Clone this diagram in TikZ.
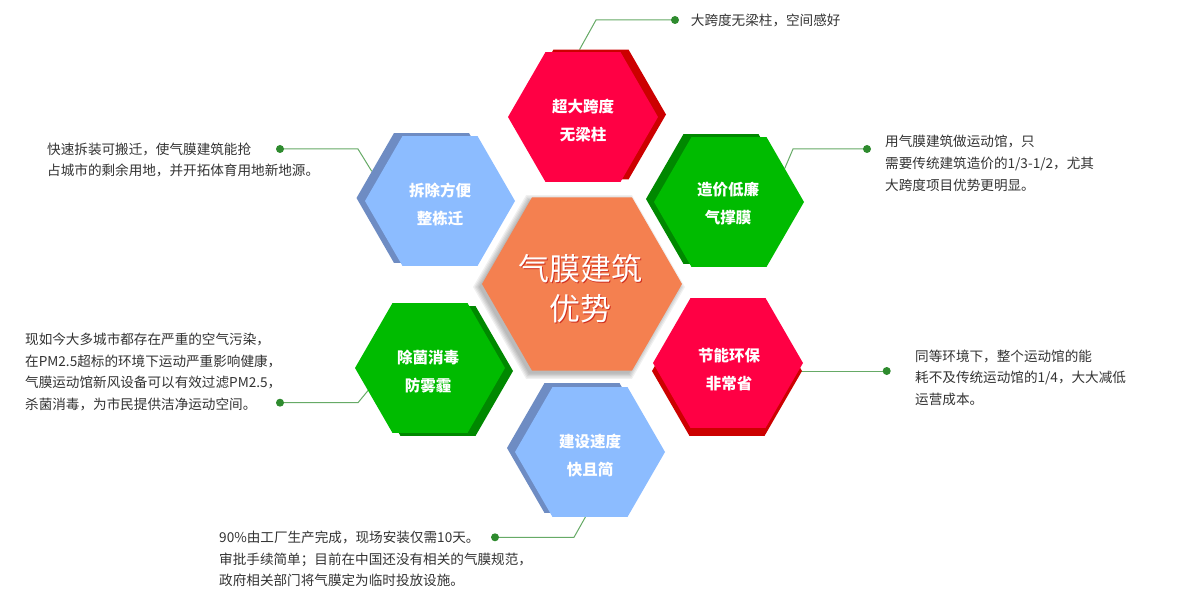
\documentclass[tikz,border=0pt]{standalone}
\usepackage{fontspec}
\setmainfont{Noto Sans CJK SC}
\usetikzlibrary{shapes.geometric,backgrounds}
\definecolor{hred}{HTML}{FF0044}
\definecolor{hredd}{HTML}{CC0000}
\definecolor{hgreen}{HTML}{00BB00}
\definecolor{hgreend}{HTML}{008800}
\definecolor{hblue}{HTML}{8CBCFF}
\definecolor{hblued}{HTML}{6E8CC3}
\definecolor{horange}{HTML}{F48050}
\definecolor{cline}{HTML}{66AA66}
\definecolor{cdot}{HTML}{2E8B2E}
\definecolor{ctext}{HTML}{333333}
\definecolor{cshad}{HTML}{D03020}
\begin{document}
\begin{tikzpicture}[x=1pt,y=-1pt,
  hexbase/.style={regular polygon, regular polygon sides=6, minimum size=150pt, inner sep=0pt, outer sep=0pt},
  hexlabel/.style={text=white, font=\bfseries\fontsize{15.5}{28}\selectfont, align=center, inner sep=0pt},
  desc/.style={text=ctext, font=\fontsize{13.6}{21.7}\selectfont, align=left, anchor=north west, inner sep=0pt},
  conn/.style={draw=cline, line width=1pt},
  dotnode/.style={circle, fill=cdot, minimum size=8pt, inner sep=0pt},
  centerlabel/.style={font=\fontsize{31}{40}\selectfont, align=center, inner sep=0pt},
  softshadow/.style={hexbase, fill=black, opacity=0.06},
]
\useasboundingbox (0,0) rectangle (1203,604);

% top red
\node[hexbase, fill=hredd] (h1s) at (591,114.5) {};
\node[hexbase, fill=hred] (h1) at (583,117) {};
\node[hexlabel] (t1) at (583,121) {超大跨度\\无梁柱};

% upper-left blue
\node[hexbase, fill=hblued] (h2s) at (431.5,198) {};
\node[hexbase, fill=hblue] (h2) at (440,201) {};
\node[hexlabel] (t2) at (440,204) {拆除方便\\整栋迁};

% upper-right green
\node[hexbase, fill=hgreend] (h3s) at (721,199) {};
\node[hexbase, fill=hgreen] (h3) at (729,202) {};
\node[hexlabel] (t3) at (728,204) {造价低廉\\气撑膜};

% lower-left green
\node[hexbase, fill=hgreend] (h4s) at (438,371) {};
\node[hexbase, fill=hgreen] (h4) at (430,368) {};
\node[hexlabel] (t4) at (428,372) {除菌消毒\\防雾霾};

% lower-right red
\node[hexbase, fill=hredd] (h5s) at (727,371) {};
\node[hexbase, fill=hred] (h5) at (728,363) {};
\node[hexlabel] (t5) at (729,370) {节能环保\\非常省};

% bottom blue
\node[hexbase, fill=hblued] (h6s) at (582,448) {};
\node[hexbase, fill=hblue] (h6) at (590,452) {};
\node[hexlabel] (t6) at (590,456) {建设速度\\快且简};

% center with soft shadow
\foreach \s in {212,209,206,203,200}
  \node[softshadow, minimum size=\s pt] (hcs\s) at (579,287) {};
\node[hexbase, minimum size=200pt, fill=horange] (hc) at (582,284) {};
\node[centerlabel, text=cshad] (tcs) at (581.2,289.8) {气膜建筑\\优势};
\node[centerlabel, text=white] (tc) at (580,289) {气膜建筑\\优势};

% dots
\node[dotnode] (d1) at (675,20) {};
\node[dotnode] (d2) at (280,149) {};
\node[dotnode] (d3) at (867,149) {};
\node[dotnode] (d4) at (280,402.7) {};
\node[dotnode] (d5) at (886.7,371) {};
\node[dotnode] (d6) at (495,537.3) {};

% elbows
\coordinate (e1) at (596,20);
\coordinate (e2) at (358,149);
\coordinate (e3) at (793,149);
\coordinate (e4) at (358,402.7);
\coordinate (e6) at (574,537.3);

% descriptions
\node[desc] (p1) at (690.7,13.5) {大跨度无梁柱，空间感好};
\node[desc] (p2) at (47,142.5) {快速拆装可搬迁，使气膜建筑能抢\\占城市的剩余用地，并开拓体育用地新地源。};
\node[desc] (p3) at (885,135.2) {用气膜建筑做运动馆，只\\需要传统建筑造价的1/3-1/2，尤其\\大跨度项目优势更明显。};
\node[desc] (p4) at (25,332.8) {现如今大多城市都存在严重的空气污染，\\在PM2.5超标的环境下运动严重影响健康，\\气膜运动馆新风设备可以有效过滤PM2.5，\\杀菌消毒，为市民提供洁净运动空间。};
\node[desc] (p5) at (915,349.5) {同等环境下，整个运动馆的能\\耗不及传统运动馆的1/4，大大减低\\运营成本。};
\node[desc] (p6) at (219,530.8) {90\%由工厂生产完成，现场安装仅需10天。\\审批手续简单；目前在中国还没有相关的气膜规范，\\政府相关部门将气膜定为临时投放设施。};

\begin{scope}[on background layer]
\fill[white] (0,0) rectangle (1203,604);
\draw[conn] (d1.center) -- (e1) -- (h1s.100);
\draw[conn] (d2.center) -- (e2) -- (h2s.156);
\draw[conn] (d3.center) -- (e3) -- (h3.31);
\draw[conn] (d4.center) -- (e4) -- (h4.200);
\draw[conn] (d5.center) -- (d5.center -| h5.center);
\draw[conn] (d6.center) -- (e6) -- (h6.266);
\end{scope}
\end{tikzpicture}
\end{document}
